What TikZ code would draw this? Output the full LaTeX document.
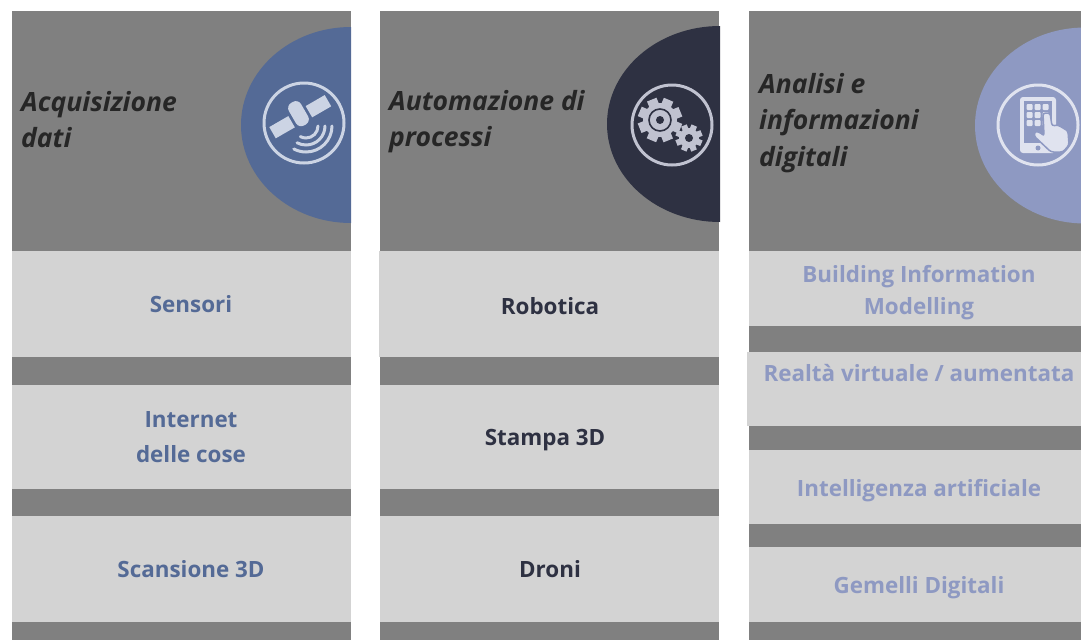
\documentclass[tikz,border=0pt]{standalone}
\usepackage{fontspec}
\setmainfont{Open Sans}
\usepackage{tikz}
\usetikzlibrary{positioning}
\definecolor{headgrey}{HTML}{808080}
\definecolor{cellgrey}{HTML}{D3D3D3}
\definecolor{acqblue}{HTML}{546A96}
\definecolor{acqlight}{HTML}{CCD4E4}
\definecolor{autodark}{HTML}{2E3142}
\definecolor{autolight}{HTML}{C0C2D0}
\definecolor{anaperi}{HTML}{8E99C2}
\definecolor{analight}{HTML}{E0E3EF}
\tikzstyle{column}=[fill=headgrey,draw=none,anchor=north west,inner sep=0pt,minimum height=629pt]
\tikzstyle{cell}=[fill=cellgrey,draw=none,anchor=north west,inner sep=0pt]
\tikzstyle{headtext}=[anchor=west,align=left,inner sep=0pt,font=\fontsize{26.5}{36.5}\selectfont\bfseries\itshape,text=black!85]
\tikzstyle{celltext}=[align=center,inner sep=0pt,font=\fontsize{22.4}{35}\selectfont\bfseries]
\tikzstyle{ring}=[line width=3pt,draw]
% a gear: centre, outer radius, body radius, colour
\newcommand{\gearicon}[4]{
  \fill[#4] (#1) circle[radius=#3pt];
  \foreach \a in {0,45,...,315}{
    \fill[#4,shift={(#1)},rotate=\a+22] (-#3*0.3,0) rectangle (#3*0.3,#2);
  }
}
\begin{document}
\begin{tikzpicture}[x=1pt,y=-1pt]
\useasboundingbox (0,0) rectangle (1081,640);

\node[column,minimum width=339pt] (acqcol) at (12,11) {};
\node[column,minimum width=339pt] (autocol) at (380,11) {};
\node[column,minimum width=332pt] (anacol) at (749,11) {};

% half discs
\begin{scope}
\clip (200,11) rectangle (351,251);
\fill[acqblue] (351,125) ellipse [x radius=110pt,y radius=98pt];
\end{scope}
\begin{scope}
\clip (560,11) rectangle (720,251);
\fill[autodark] (720,124) ellipse [x radius=113pt,y radius=98pt];
\end{scope}
\begin{scope}
\clip (940,11) rectangle (1081,251);
\fill[anaperi] (1085,125.5) ellipse [x radius=110pt,y radius=98pt];
\end{scope}

% first column
\node[cell,minimum width=339pt,minimum height=106pt] (sensbox) at (12,251) {};
\node[cell,minimum width=339pt,minimum height=104pt] (iotbox) at (12,385) {};
\node[cell,minimum width=339pt,minimum height=106pt] (scanbox) at (12,516) {};
\node[headtext] (acqhead) at (21,119.5) {Acquisizione\\dati};
\node[celltext,text=acqblue] (senstext) at (191,304) {Sensori};
\node[celltext,text=acqblue] (iottext) at (191,437) {Internet\\delle cose};
\node[celltext,text=acqblue] (scantext) at (191,569) {Scansione 3D};

% second column
\node[cell,minimum width=340pt,minimum height=106pt] (robobox) at (379,251) {};
\node[cell,minimum width=339pt,minimum height=104pt] (printbox) at (380,385) {};
\node[cell,minimum width=339pt,minimum height=106pt] (dronebox) at (380,516) {};
\node[headtext] (autohead) at (389,121.5) {Automazione di\\processi};
\node[celltext,text=autodark] (robotext) at (550,306) {Robotica};
\node[celltext,text=autodark] (printtext) at (545,440) {Stampa 3D};
\node[celltext,text=autodark] (dronetext) at (550,569) {Droni};

% third column
\node[cell,minimum width=332pt,minimum height=75pt] (bimbox) at (749,251) {};
\node[cell,minimum width=334pt,minimum height=74pt] (vrbox) at (747,352) {};
\node[cell,minimum width=332pt,minimum height=74pt] (aibox) at (749,450) {};
\node[cell,minimum width=332pt,minimum height=75pt] (twinbox) at (749,547) {};
\node[headtext] (anahead) at (759,123) {Analisi e\\informazioni\\digitali};
\node[celltext,text=anaperi,font=\fontsize{22.4}{32}\selectfont\bfseries] (bimtext) at (919,293) {Building Information\\Modelling};
\node[celltext,text=anaperi] (vrtext) at (919,373) {Realtà virtuale / aumentata};
\node[celltext,text=anaperi] (aitext) at (919,491) {Intelligenza artificiale};
\node[celltext,text=anaperi] (twintext) at (919,588) {Gemelli Digitali};

% satellite icon
\begin{scope}[shift={(304,123)}]
\draw[ring,acqlight] (0,0) circle[radius=40pt];
\begin{scope}[shift={(-3,-5)},rotate=30]
\fill[acqlight] (-32,-8) rectangle (-10,5);
\fill[acqlight] (10,-8) rectangle (32,5);
\fill[acqlight,rounded corners=6pt] (-7,-18) rectangle (7,8);
\end{scope}
\foreach \r in {12,19,26}{
  \draw[acqlight,line width=3pt,line cap=round] (\r+2,3) arc[start angle=0,end angle=-118,radius=\r pt];
}
\end{scope}

% gears icon
\begin{scope}[shift={(672,125)}]
\draw[ring,autolight] (0,0) circle[radius=40pt];
\gearicon{-12,-5}{22}{17}{autolight}
\draw[autodark,line width=1.6pt] (-12,-5) circle[radius=11pt];
\fill[autodark] (-12,-5) circle[radius=4pt];
\gearicon{17,13}{13.5}{10}{autolight}
\fill[autodark] (17,13) circle[radius=4pt];
\end{scope}

% phone icon
\begin{scope}[shift={(1038,125)}]
\draw[ring,analight] (0,0) circle[radius=40pt];
\fill[analight,rounded corners=3pt] (-18,-28) rectangle (18,28);
\fill[anaperi] (-14,-24) rectangle (14,18);
\foreach \i in {-8.5,-0.5,7.5}{
  \foreach \j in {-18,-10,-2}{
    \fill[analight,rounded corners=1pt] (\i-3,\j-3) rectangle (\i+3,\j+3);
  }
}
\fill[anaperi] (0,23) circle[radius=2.5pt];
\fill[analight,draw=anaperi,line width=1.5pt,rounded corners=2.5pt] (5,-12) -- (12,-12) -- (14,1) -- (20,0) -- (30,6) -- (31,20) -- (25,27) -- (13,27) -- (-4,11) -- (-3,6) -- (3,8) -- (6,11) -- cycle;
\end{scope}
\end{tikzpicture}
\end{document}
